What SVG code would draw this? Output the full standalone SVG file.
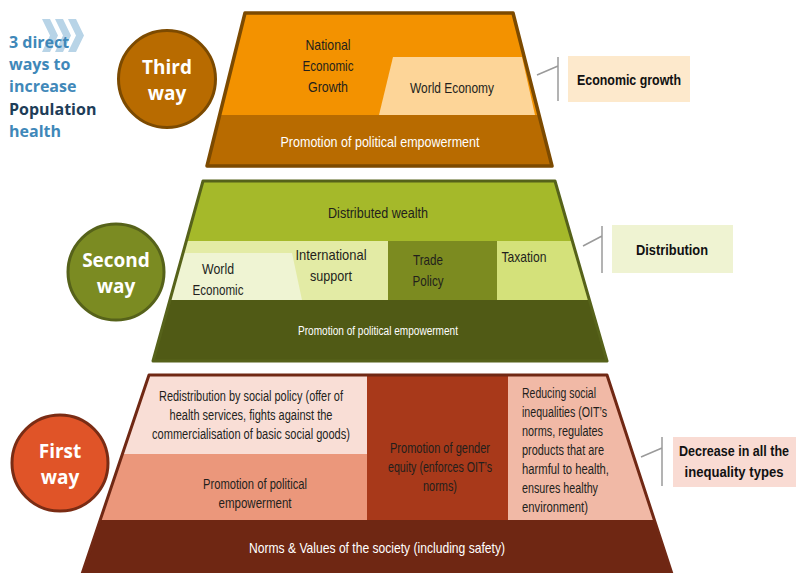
<svg xmlns="http://www.w3.org/2000/svg" width="796" height="573" viewBox="0 0 796 573">
<style>
.t{font-family:"Liberation Sans",Arial,sans-serif;text-anchor:middle;}
.dk{fill:#231f1c;}
.wh{fill:#ffffff;}
.lb{font-family:"Liberation Sans",Arial,sans-serif;font-weight:bold;font-size:15.5px;fill:#111;text-anchor:middle;}
.cir{font-family:"Open Sans","Liberation Sans",sans-serif;font-weight:bold;font-size:19px;fill:#fff;text-anchor:middle;}
.ttl{font-family:"Open Sans","Liberation Sans",sans-serif;font-weight:bold;font-size:16px;fill:#3f88b9;}
.lead{stroke:#9a9a9a;stroke-width:1.5;fill:none;}
</style>
<defs>
<clipPath id="c3"><polygon points="245,13 513,13 552,166 207,166"/></clipPath>
<clipPath id="c2"><polygon points="203,181 555,181 607,361 153,361"/></clipPath>
<clipPath id="c1"><polygon points="149,375 607,375 674,580 80,580"/></clipPath>
</defs>
<rect width="796" height="573" fill="#ffffff"/>

<g id="title">
<g fill="#b8d4e7">
<polygon points="42,19 50,19 58,35.5 50,52 42,52 50,35.5"/>
<polygon points="55,19 63,19 71,35.5 63,52 55,52 63,35.5"/>
<polygon points="68,19 76,19 84,35.5 76,52 68,52 76,35.5"/>
</g>
<text class="ttl" x="9" y="48">3 direct</text>
<text class="ttl" x="9" y="70">ways to</text>
<text class="ttl" x="9" y="92">increase</text>
<text class="ttl" x="9" y="115" style="fill:#1e3d58">Population</text>
<text class="ttl" x="9" y="137">health</text>
</g>

<g id="third-way">
<g clip-path="url(#c3)">
<rect x="200" y="10" width="360" height="105" fill="#f39200"/>
<polygon points="393,57 522,57 535,115 379,115" fill="#fdd598"/>
<rect x="200" y="115" width="360" height="55" fill="#b86b00"/>
</g>
<polygon points="245,13 513,13 552,166 207,166" fill="none" stroke="#7c4a00" stroke-width="3.5" stroke-linejoin="round"/>
<text class="t dk" font-size="15" x="328" y="50" textLength="45" lengthAdjust="spacingAndGlyphs">National</text>
<text class="t dk" font-size="15" x="328" y="71" textLength="51" lengthAdjust="spacingAndGlyphs">Economic</text>
<text class="t dk" font-size="15" x="328" y="92" textLength="40" lengthAdjust="spacingAndGlyphs">Growth</text>
<text class="t dk" font-size="15" x="452" y="93" textLength="84" lengthAdjust="spacingAndGlyphs">World Economy</text>
<text class="t wh" font-size="14.5" x="380" y="147" textLength="199" lengthAdjust="spacingAndGlyphs">Promotion of political empowerment</text>
</g>
<g id="third-circle">
<circle cx="167" cy="79" r="48.5" fill="#b86b00" stroke="#7c4a00" stroke-width="3"/>
<text class="cir" x="167" y="74">Third</text>
<text class="cir" x="167" y="100">way</text>
</g>

<g id="second-way">
<g clip-path="url(#c2)">
<rect x="150" y="178" width="460" height="63" fill="#a5b92a"/>
<rect x="150" y="241" width="238" height="59" fill="#e3eba5"/>
<polygon points="185,253 292,253 302,300 150,300 150,253" fill="#eff4d3"/>
<rect x="388" y="241" width="109" height="59" fill="#7c8b20"/>
<rect x="497" y="241" width="113" height="59" fill="#d4e17a"/>
<rect x="150" y="300" width="460" height="64" fill="#505a15"/>
</g>
<polygon points="203,181 555,181 607,361 153,361" fill="none" stroke="#56621a" stroke-width="3" stroke-linejoin="round"/>
<text class="t dk" font-size="15" x="378" y="218" textLength="100" lengthAdjust="spacingAndGlyphs">Distributed wealth</text>
<text class="t dk" font-size="15" x="218" y="274" textLength="32" lengthAdjust="spacingAndGlyphs">World</text>
<text class="t dk" font-size="15" x="218" y="295" textLength="51" lengthAdjust="spacingAndGlyphs">Economic</text>
<text class="t dk" font-size="15" x="331" y="260" textLength="71" lengthAdjust="spacingAndGlyphs">International</text>
<text class="t dk" font-size="15" x="331" y="281" textLength="42" lengthAdjust="spacingAndGlyphs">support</text>
<text class="t dk" font-size="15" x="428" y="265" textLength="30" lengthAdjust="spacingAndGlyphs">Trade</text>
<text class="t dk" font-size="15" x="428" y="286" textLength="31" lengthAdjust="spacingAndGlyphs">Policy</text>
<text class="t dk" font-size="15" x="524" y="262" textLength="45" lengthAdjust="spacingAndGlyphs">Taxation</text>
<text class="t wh" font-size="12" x="378" y="335" textLength="160" lengthAdjust="spacingAndGlyphs">Promotion of political empowerment</text>
</g>
<g id="second-circle">
<circle cx="116" cy="272" r="48" fill="#7b8b22" stroke="#56621a" stroke-width="3"/>
<text class="cir" x="116" y="267">Second</text>
<text class="cir" x="116" y="293">way</text>
</g>

<g id="first-way">
<g clip-path="url(#c1)">
<rect x="78" y="372" width="289" height="82" fill="#f9ded6"/>
<rect x="78" y="454" width="289" height="66" fill="#eb977b"/>
<rect x="367" y="372" width="141" height="148" fill="#a8391a"/>
<rect x="508" y="372" width="170" height="148" fill="#f1b9a6"/>
<rect x="78" y="520" width="600" height="60" fill="#6f2713"/>
</g>
<polygon points="149,375 607,375 674,580 80,580" fill="none" stroke="#702814" stroke-width="3" stroke-linejoin="round"/>
<text class="t dk" font-size="14" x="251" y="401" textLength="184" lengthAdjust="spacingAndGlyphs">Redistribution by social policy (offer of</text>
<text class="t dk" font-size="14" x="251" y="420" textLength="163" lengthAdjust="spacingAndGlyphs">health services, fights  against the</text>
<text class="t dk" font-size="14" x="251" y="439" textLength="198" lengthAdjust="spacingAndGlyphs">commercialisation  of basic social  goods)</text>
<text class="t dk" font-size="14" x="255" y="489" textLength="104" lengthAdjust="spacingAndGlyphs">Promotion of political</text>
<text class="t dk" font-size="14" x="255" y="508" textLength="73" lengthAdjust="spacingAndGlyphs">empowerment</text>
<text class="t dk" font-size="14" x="440" y="453" textLength="100" lengthAdjust="spacingAndGlyphs">Promotion of gender</text>
<text class="t dk" font-size="14" x="440" y="472" textLength="104" lengthAdjust="spacingAndGlyphs">equity (enforces OIT’s</text>
<text class="t dk" font-size="14" x="440" y="491" textLength="34" lengthAdjust="spacingAndGlyphs">norms)</text>
<g class="t dk" font-size="14" style="text-anchor:start">
<text x="522" y="398" textLength="74" lengthAdjust="spacingAndGlyphs">Reducing social</text>
<text x="522" y="417" textLength="85" lengthAdjust="spacingAndGlyphs">inequalities (OIT’s</text>
<text x="522" y="436" textLength="81" lengthAdjust="spacingAndGlyphs">norms, regulates</text>
<text x="522" y="455" textLength="82" lengthAdjust="spacingAndGlyphs">products that are</text>
<text x="522" y="474" textLength="87" lengthAdjust="spacingAndGlyphs">harmful to health,</text>
<text x="522" y="493" textLength="76" lengthAdjust="spacingAndGlyphs">ensures healthy</text>
<text x="522" y="512" textLength="66" lengthAdjust="spacingAndGlyphs">environment)</text>
</g>
<text class="t wh" font-size="14.5" x="377" y="553" textLength="256" lengthAdjust="spacingAndGlyphs">Norms &amp; Values of the society (including safety)</text>
</g>
<g id="first-circle">
<circle cx="60" cy="463" r="48" fill="#e05428" stroke="#7a2c14" stroke-width="3"/>
<text class="cir" x="60" y="458">First</text>
<text class="cir" x="60" y="484">way</text>
</g>

<g id="label-economic-growth">
<rect x="568" y="56" width="122" height="46" fill="#fde9cc"/>
<text class="lb" x="629" y="85" textLength="104" lengthAdjust="spacingAndGlyphs">Economic growth</text>
</g>
<g id="label-distribution">
<rect x="612" y="225" width="121" height="48" fill="#eff3d2"/>
<text class="lb" x="672" y="255" textLength="72" lengthAdjust="spacingAndGlyphs">Distribution</text>
</g>
<g id="label-decrease">
<rect x="673" y="437" width="123" height="50" fill="#f9dbd3"/>
<text class="lb" x="734" y="456" textLength="110" lengthAdjust="spacingAndGlyphs">Decrease in all the</text>
<text class="lb" x="734" y="477" textLength="99" lengthAdjust="spacingAndGlyphs">inequality types</text>
</g>

<g id="connectors">
<path class="lead" d="M558,57 V101 M537,75 L558,66"/>
<path class="lead" d="M602,226 V273 M583,246 L602,236"/>
<path class="lead" d="M662,437 V486 M641,457 L662,448"/>
</g>
</svg>
